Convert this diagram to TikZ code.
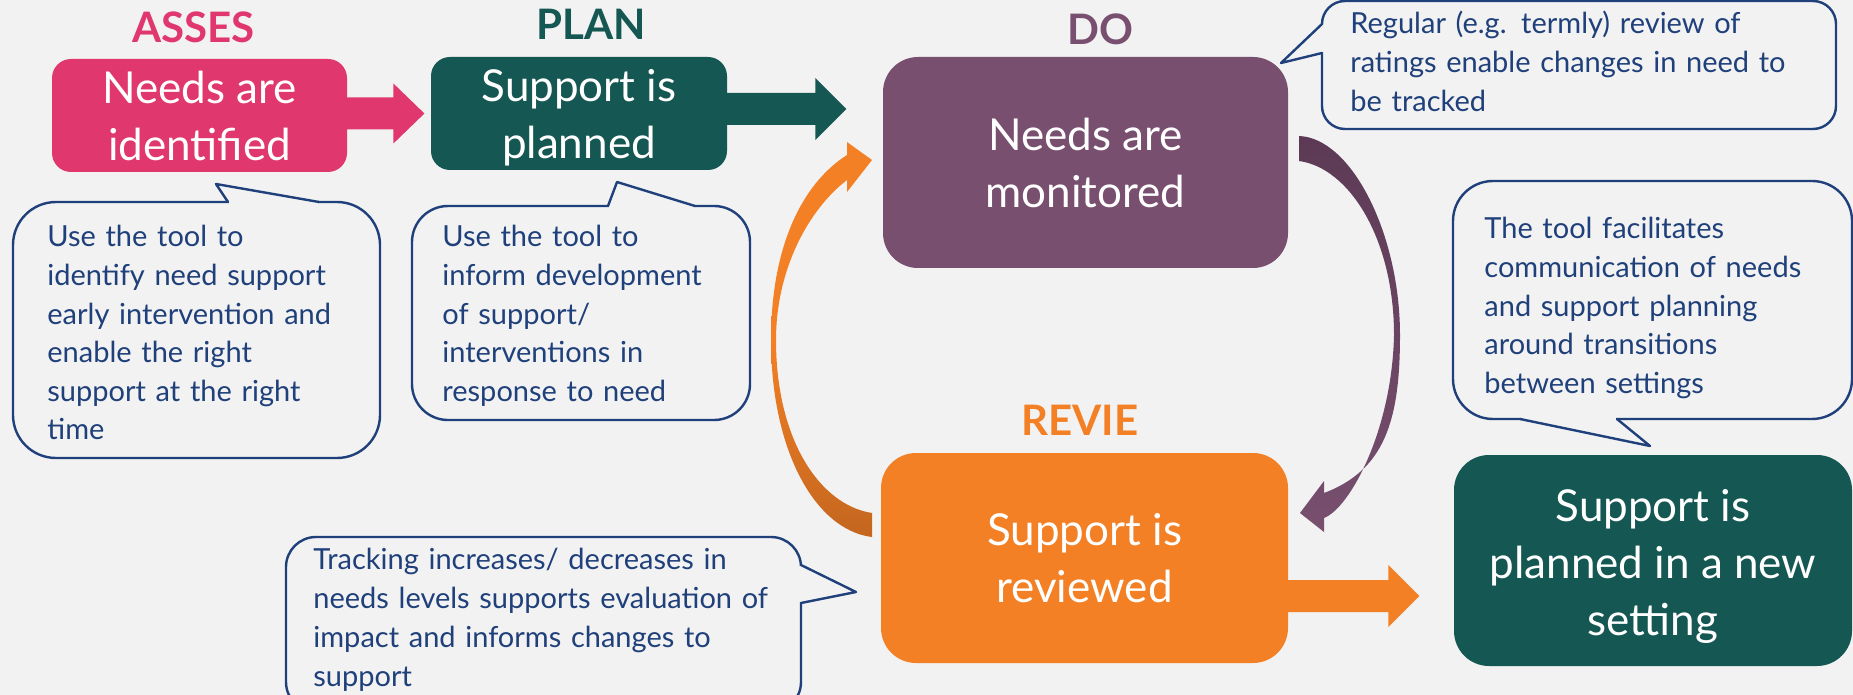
\documentclass[tikz,border=0pt]{standalone}
\usepackage{fontspec}
\setmainfont{Lato}
\usetikzlibrary{calc}
\definecolor{bgc}{RGB}{242,242,242}
\definecolor{pinkc}{RGB}{224,56,110}
\definecolor{tealc}{RGB}{21,87,82}
\definecolor{purplec}{RGB}{120,79,111}
\definecolor{purpledark}{RGB}{92,58,85}
\definecolor{orangec}{RGB}{243,128,37}
\definecolor{orangedark}{RGB}{196,102,31}
\definecolor{cblue}{RGB}{31,64,122}
\begin{document}
\begin{tikzpicture}[x=0.5pt,y=-0.5pt,
  stagebox/.style={fill=#1, text=white, align=center, inner sep=0pt,
    font=\fontsize{22}{28.5}\selectfont},
  header/.style={text=#1, anchor=base, inner sep=0pt,
    font=\bfseries\fontsize{21}{24}\selectfont},
  calloutbox/.style={draw=cblue, line width=1.2pt, inner sep=0pt},
  callouttext/.style={text=cblue, align=left, inner sep=0pt, anchor=base west,
    text width=250pt, font=\fontsize{14.5}{19.3}\selectfont},
  tail/.style={draw=cblue, line width=1.2pt, line join=round},
  gap/.style={fill=bgc}
]
\useasboundingbox (0,0) rectangle (1853,695);
\clip (0,0) rectangle (1853,695);
\fill[bgc] (0,0) rectangle (1853,695);

% headers
\node[header=pinkc] (hA) at (193.5,43) {ASSES};
\node[header=tealc] (hP) at (591,40) {PLAN};
\node[header=purplec] (hD) at (1100,45) {DO};
\node[header=orangec] (hR) at (1080,435) {REVIE};

% stage boxes
\node[stagebox=pinkc, rounded corners=9.5pt, minimum width=147.5pt, minimum height=56.5pt] (A) at (199.5,115.5) {Needs are\\identified};
\node[stagebox=tealc, rounded corners=9.5pt, minimum width=148pt, minimum height=56.5pt] (P) at (579,113.5) {\rule{0pt}{20pt}Support is\\planned};
\node[stagebox=purplec, rounded corners=17.5pt, minimum width=202.5pt, minimum height=105.5pt] (D) at (1085.5,162.5) {Needs are\\monitored};
\node[stagebox=orangec, rounded corners=17.5pt, minimum width=203.5pt, minimum height=105pt] (R) at (1084.5,558) {Support is\\reviewed};
\node[stagebox=tealc, rounded corners=17.5pt, minimum width=199pt, minimum height=105.5pt] (N) at (1653,560.5) {\rule{0pt}{22.5pt}Support is\\planned in a new\\setting};

% straight block arrows
\fill[pinkc] (A.east) ++(-1,-18) -- ++(47,0) -- ++(0,-14) -- ++(31,30) -- ++(-31,30) -- ++(0,-14) -- ++(-47,0) -- cycle;
\fill[tealc] (P.east) ++(-1,-20.5) -- ++(89,0) -- ++(0,-15) -- ++(31,31) -- ++(-31,31) -- ++(0,-15) -- ++(-89,0) -- cycle;
\fill[orangec] (R.east) ++(-1,22) -- ++(101,0) -- ++(0,-15) -- ++(31,31) -- ++(-31,31) -- ++(0,-15) -- ++(-101,0) -- cycle;

% curved arrow D -> R
\shade[top color=purpledark, bottom color=purplec]
  (1299,136) .. controls (1352,138) and (1400,235) .. (1400,335)
  .. controls (1400,420) and (1385,470) .. (1324,493)
  -- (1324,481) -- (1300,513) -- (1324,532) -- (1324,518)
  .. controls (1350,508) and (1392,430) .. (1394,335)
  .. controls (1394,240) and (1350,168) .. (1299,161) -- cycle;

% curved arrow R -> D
\shade[top color=orangec, bottom color=orangedark, middle color=orangec]
  (872,537) .. controls (815,530) and (771,450) .. (771,340)
  .. controls (771,250) and (800,185) .. (847,155)
  -- (847,142) -- (872,160) -- (847,192) -- (847,180)
  .. controls (808,210) and (776,270) .. (776,340)
  .. controls (776,440) and (820,505) .. (872,513) -- cycle;

% callout 1
\node[calloutbox, rounded corners=21.5pt, minimum width=183.5pt, minimum height=128pt] (cb1) at (196.5,330) {};
\fill[gap] (229,198) rectangle (318,206);
\draw[tail] (228,202) -- (216,184) -- (319,202);
\node[callouttext] (c1) at (47,247)
  {Use the tool to\\identify need support\\early intervention and\\enable the right\\support at the right\\time};

% callout 2
\node[calloutbox, rounded corners=18pt, minimum width=169pt, minimum height=107pt] (cb2) at (581,313) {};
\fill[gap] (609,202) rectangle (694,210);
\draw[tail] (608,206) -- (617,182) -- (695,206);
\node[callouttext] (c2) at (442,247)
  {Use the tool to\\inform development\\of support/\\interventions in\\response to need};

% callout 3
\node[calloutbox, rounded corners=11.5pt, minimum width=257pt, minimum height=64pt] (cb3) at (1579,65) {};
\fill[gap] (1318,25) rectangle (1326,52);
\draw[tail] (1322,24) -- (1281,63) -- (1322,53);
\node[callouttext] (c3) at (1350,34)
  {Regular (e.g. termly) review of\\ratings enable changes in need to\\be tracked};

% callout 4
\node[calloutbox, rounded corners=20pt, minimum width=199.5pt, minimum height=119pt] (cb4) at (1652.5,300) {};
\fill[gap] (1521,415) rectangle (1616,423);
\draw[tail] (1520,419) -- (1650,446) -- (1617,419);
\node[callouttext] (c4) at (1484,239)
  {The tool facilitates\\communication of needs\\and support planning\\around transitions\\between settings};

% callout 5
\node[calloutbox, rounded corners=15pt, minimum width=257.5pt, minimum height=87.5pt] (cb5) at (543.5,624.5) {};
\fill[gap] (797,566) rectangle (805,602);
\draw[tail] (801,565) -- (856,592) -- (801,603);
\node[callouttext, font=\fontsize{14.5}{19.6}\selectfont] (c5) at (313,569)
  {Tracking increases/ decreases in\\needs levels supports evaluation of\\impact and informs changes to\\support};
\end{tikzpicture}
\end{document}
